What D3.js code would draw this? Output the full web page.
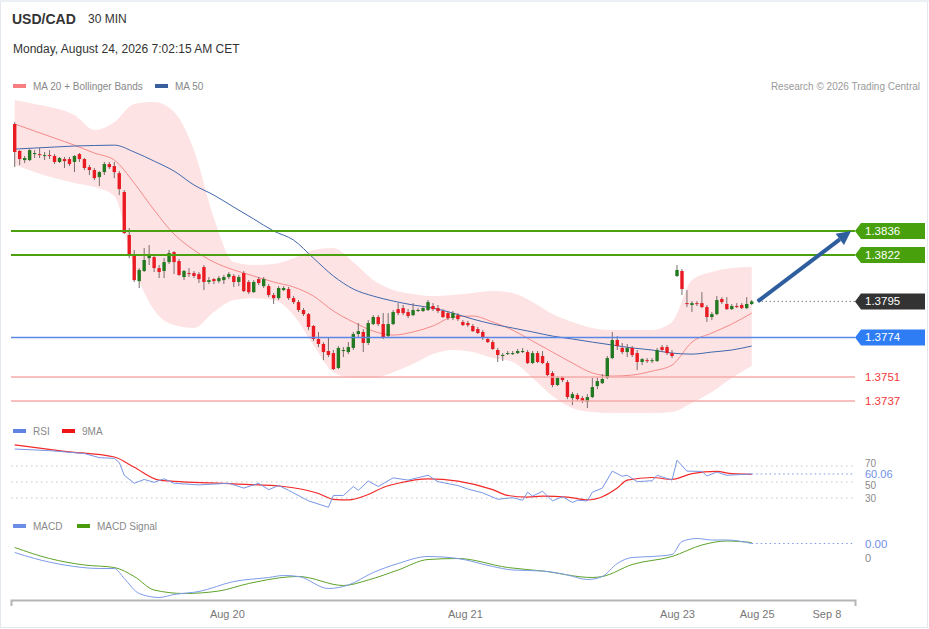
<!DOCTYPE html>
<html lang="en">
<head>
<meta charset="UTF-8">
<title>USD/CAD 30 MIN</title>
<script src="https://d3js.org/d3.v7.min.js"></script>
<style>
body { margin: 0; background: #fff; }
svg text { font-family: "Liberation Sans", Arial, sans-serif; }
.axis path { stroke: #b5b5b5; stroke-width: 2; }
.axis text { fill: #777; font-size: 11px; }
</style>
</head>
<body>
<script>
// 30 min candles: [open, high, low, close]
var candles = [
  [1.38983,1.38994,1.38732,1.38820],[1.38826,1.38831,1.38744,1.38779],[1.38773,1.38797,1.38756,1.38785],
  [1.38773,1.38837,1.38767,1.38831],[1.38808,1.38831,1.38785,1.38814],[1.38808,1.38843,1.38785,1.38802],
  [1.38797,1.38820,1.38773,1.38802],[1.38802,1.38831,1.38779,1.38797],[1.38797,1.38808,1.38750,1.38762],
  [1.38762,1.38791,1.38756,1.38785],[1.38779,1.38791,1.38727,1.38767],[1.38779,1.38791,1.38738,1.38750],
  [1.38762,1.38802,1.38703,1.38797],[1.38808,1.38814,1.38762,1.38779],[1.38779,1.38785,1.38715,1.38727],
  [1.38732,1.38744,1.38686,1.38715],[1.38715,1.38727,1.38657,1.38668],[1.38674,1.38709,1.38622,1.38703],
  [1.38703,1.38762,1.38686,1.38750],[1.38750,1.38762,1.38721,1.38732],[1.38738,1.38762,1.38668,1.38703],
  [1.38697,1.38709,1.38569,1.38604],[1.38587,1.38598,1.38342,1.38348],[1.38337,1.38377,1.38202,1.38220],
  [1.38220,1.38249,1.38063,1.38074],[1.38068,1.38144,1.38028,1.38133],[1.38127,1.38261,1.38121,1.38191],
  [1.38202,1.38278,1.38162,1.38220],[1.38208,1.38220,1.38121,1.38144],[1.38144,1.38162,1.38086,1.38121],
  [1.38127,1.38202,1.38086,1.38179],[1.38179,1.38249,1.38168,1.38232],[1.38237,1.38243,1.38109,1.38179],
  [1.38185,1.38197,1.38098,1.38104],[1.38092,1.38133,1.38074,1.38127],[1.38115,1.38144,1.38092,1.38109],
  [1.38115,1.38127,1.38086,1.38098],[1.38109,1.38121,1.38057,1.38080],[1.38150,1.38162,1.38016,1.38063],
  [1.38063,1.38092,1.38051,1.38074],[1.38080,1.38086,1.38051,1.38068],[1.38068,1.38098,1.38057,1.38086],
  [1.38074,1.38104,1.38051,1.38092],[1.38092,1.38121,1.38080,1.38109],[1.38098,1.38109,1.38034,1.38063],
  [1.38063,1.38104,1.38039,1.38092],[1.38115,1.38127,1.38004,1.38010],[1.38063,1.38074,1.37993,1.38004],
  [1.38004,1.38074,1.37999,1.38063],[1.38080,1.38092,1.38045,1.38057],[1.38039,1.38092,1.38028,1.38080],
  [1.38039,1.38051,1.37975,1.37987],[1.37987,1.37999,1.37935,1.37969],[1.37969,1.38039,1.37958,1.38028],
  [1.38016,1.38039,1.38010,1.38028],[1.38022,1.38034,1.37958,1.37969],[1.37969,1.37981,1.37935,1.37946],
  [1.37946,1.37958,1.37888,1.37900],[1.37900,1.37911,1.37865,1.37876],[1.37876,1.37882,1.37783,1.37801],
  [1.37807,1.37812,1.37719,1.37731],[1.37731,1.37772,1.37684,1.37702],[1.37702,1.37713,1.37608,1.37655],
  [1.37661,1.37737,1.37626,1.37638],[1.37649,1.37667,1.37550,1.37556],[1.37562,1.37690,1.37556,1.37679],
  [1.37661,1.37684,1.37626,1.37667],[1.37655,1.37713,1.37643,1.37684],[1.37679,1.37772,1.37667,1.37760],
  [1.37760,1.37824,1.37743,1.37777],[1.37772,1.37789,1.37655,1.37708],[1.37708,1.37841,1.37696,1.37824],
  [1.37818,1.37870,1.37812,1.37859],[1.37859,1.37870,1.37807,1.37818],[1.37818,1.37882,1.37731,1.37737],
  [1.37748,1.37882,1.37743,1.37818],[1.37818,1.37900,1.37812,1.37888],[1.37905,1.37940,1.37870,1.37882],
  [1.37911,1.37929,1.37870,1.37882],[1.37888,1.37905,1.37853,1.37865],[1.37870,1.37940,1.37865,1.37900],
  [1.37894,1.37911,1.37888,1.37900],[1.37894,1.37923,1.37888,1.37911],[1.37900,1.37958,1.37894,1.37946],
  [1.37923,1.37940,1.37894,1.37905],[1.37911,1.37929,1.37882,1.37894],[1.37894,1.37905,1.37853,1.37859],
  [1.37882,1.37894,1.37841,1.37853],[1.37853,1.37894,1.37841,1.37882],[1.37870,1.37882,1.37836,1.37847],
  [1.37830,1.37841,1.37807,1.37812],[1.37824,1.37836,1.37801,1.37812],[1.37807,1.37818,1.37772,1.37777],
  [1.37789,1.37801,1.37760,1.37766],[1.37772,1.37783,1.37725,1.37737],[1.37731,1.37743,1.37708,1.37713],
  [1.37713,1.37725,1.37667,1.37673],[1.37667,1.37679,1.37597,1.37638],[1.37632,1.37649,1.37603,1.37638],
  [1.37643,1.37661,1.37638,1.37649],[1.37643,1.37661,1.37638,1.37649],[1.37649,1.37673,1.37643,1.37661],
  [1.37655,1.37679,1.37649,1.37661],[1.37655,1.37667,1.37585,1.37591],[1.37591,1.37661,1.37585,1.37649],
  [1.37649,1.37661,1.37591,1.37597],[1.37632,1.37661,1.37585,1.37591],[1.37591,1.37603,1.37515,1.37521],
  [1.37533,1.37544,1.37451,1.37463],[1.37463,1.37515,1.37457,1.37504],[1.37509,1.37515,1.37480,1.37492],
  [1.37480,1.37492,1.37381,1.37393],[1.37387,1.37422,1.37346,1.37410],[1.37405,1.37416,1.37370,1.37381],
  [1.37387,1.37399,1.37358,1.37370],[1.37364,1.37410,1.37329,1.37393],[1.37393,1.37504,1.37387,1.37451],
  [1.37457,1.37509,1.37439,1.37486],[1.37474,1.37527,1.37469,1.37498],[1.37504,1.37632,1.37498,1.37620],
  [1.37620,1.37772,1.37614,1.37725],[1.37725,1.37748,1.37667,1.37690],[1.37679,1.37708,1.37643,1.37655],
  [1.37655,1.37702,1.37626,1.37679],[1.37679,1.37690,1.37626,1.37638],[1.37649,1.37667,1.37550,1.37597],
  [1.37597,1.37620,1.37579,1.37614],[1.37608,1.37620,1.37591,1.37603],[1.37603,1.37620,1.37591,1.37608],
  [1.37603,1.37679,1.37597,1.37667],[1.37684,1.37696,1.37655,1.37667],[1.37684,1.37696,1.37638,1.37649],
  [1.37649,1.37667,1.37620,1.37632],[1.38098,1.38162,1.38092,1.38133],[1.38127,1.38138,1.37987,1.38022],
  [1.37940,1.38016,1.37917,1.37935],[1.37929,1.37952,1.37888,1.37940],[1.37940,1.37952,1.37923,1.37935],
  [1.37940,1.38004,1.37911,1.37917],[1.37917,1.37929,1.37830,1.37859],[1.37859,1.37888,1.37841,1.37876],
  [1.37876,1.37981,1.37870,1.37958],[1.37964,1.37975,1.37935,1.37946],[1.37935,1.37975,1.37900,1.37905],
  [1.37905,1.37935,1.37900,1.37923],[1.37923,1.37940,1.37911,1.37917],[1.37929,1.37940,1.37905,1.37911],
  [1.37911,1.37975,1.37905,1.37935],[1.37935,1.37958,1.37929,1.37950]
];

// overlays, read every 4 candles
var bandIdx = [0,4,8,12,16,20,24,28,32,36,40,44,48,52,56,60,64,68,72,76,80,84,88,92,96,100,104,108,112,116,120,124,128,132,136,140,144,148];
var ma20 = [1.38983,1.38942,1.38901,1.38860,1.38814,1.38773,1.38639,1.38482,1.38342,1.38249,1.38179,1.38133,1.38098,1.38063,1.38034,1.37981,1.37894,1.37830,1.37777,1.37754,1.37772,1.37807,1.37859,1.37865,1.37830,1.37783,1.37719,1.37655,1.37591,1.37533,1.37515,1.37521,1.37544,1.37579,1.37713,1.37766,1.37818,1.37882];
var bbUpper = [1.39123,1.39100,1.39076,1.39035,1.38948,1.38994,1.39100,1.39111,1.39053,1.38831,1.38435,1.38179,1.38162,1.38168,1.38202,1.38249,1.38261,1.38179,1.38074,1.38016,1.37993,1.37981,1.37987,1.37999,1.38010,1.37999,1.37946,1.37876,1.37830,1.37795,1.37783,1.37783,1.37783,1.37830,1.38074,1.38121,1.38144,1.38150];
var bbLower = [1.38744,1.38703,1.38668,1.38639,1.38616,1.38564,1.38144,1.37900,1.37812,1.37795,1.37888,1.37958,1.37969,1.37958,1.37870,1.37696,1.37538,1.37504,1.37504,1.37538,1.37585,1.37643,1.37667,1.37655,1.37620,1.37597,1.37504,1.37399,1.37329,1.37306,1.37300,1.37300,1.37300,1.37306,1.37358,1.37422,1.37504,1.37574];
var ma50 = [1.38837,1.38843,1.38849,1.38855,1.38858,1.38860,1.38820,1.38767,1.38709,1.38628,1.38569,1.38499,1.38430,1.38360,1.38307,1.38202,1.38098,1.38022,1.37981,1.37952,1.37929,1.37911,1.37882,1.37847,1.37818,1.37795,1.37772,1.37748,1.37731,1.37713,1.37696,1.37679,1.37667,1.37649,1.37643,1.37655,1.37667,1.37690];

// key levels
var resistances = [1.3836, 1.3822];
var pivot = 1.3774;
var supports = [1.3751, 1.3737];
var lastPrice = 1.3795;

// RSI and its 9 period MA
var rsiIdx = [0,7,14,17,20,21,22,24,26,28,30,32,37,43,46,49,51,53,55,59,63,64,66,68,69,71,73,76,79,83,85,89,91,94,97,100,102,103,104,106,108,110,112,113,115,116,118,120,122,123,125,128,129,132,133,135,138,139,141,143,148];
var rsiVal = [91.2,89.2,85.6,80.4,79.6,74.4,58.4,48.4,53.2,49.6,54,48.4,46.4,48.4,42.4,48.4,40.4,45.6,39.6,26.4,18.4,33.2,33.2,44.4,39.6,51.2,44.4,55.2,52.4,58.4,50.4,45.6,41.2,36.4,28.4,30.4,27.2,37.2,32.4,38.4,26.4,31.6,24.4,27.2,26.4,37.2,42.4,63.6,57.2,58.4,50.4,51.6,58.4,52.4,77.2,63.6,63.2,57.6,62.4,58.4,60.06];
var rsiMaIdx = [0,10,20,24,29,44,54,61,64,67,71,74,77,83,89,96,99,103,106,111,115,118,121,123,128,132,136,141,144,148];
var rsiMaVal = [96.4,88.4,81.2,68.4,52.4,47.6,44.4,35.6,28.4,27.6,34.4,43.2,48.4,54,51.2,40.4,33.2,31.2,32.4,31.2,27.6,31.6,42.4,52.4,55.6,53.2,60.4,63.2,60.4,59.6];
var rsiLevels = [70, 50, 30];

// MACD
var macdIdx = [0,4,10,17,20,22,25,29,32,37,44,51,54,57,63,67,72,77,83,89,96,100,106,111,115,118,121,124,128,132,134,137,140,143,148];
var macdVal = [0.00009,-0.00003,-0.00016,-0.00023,-0.00023,-0.00043,-0.00073,-0.00081,-0.00075,-0.00069,-0.00049,-0.00041,-0.00037,-0.00039,-0.00063,-0.00056,-0.00031,-0.00013,0.00001,-0.00003,-0.00019,-0.00026,-0.00028,-0.00036,-0.00045,-0.00039,-0.00013,-0.00001,0.00001,0.00005,0.00031,0.00037,0.00034,0.00034,0.00027];
var signalIdx = [0,7,14,20,24,28,34,41,47,57,66,71,77,83,89,99,106,116,118,124,132,138,143,148];
var signalVal = [0.00019,-0.00003,-0.00016,-0.00021,-0.00039,-0.00066,-0.00073,-0.00068,-0.00053,-0.00039,-0.00057,-0.00046,-0.00026,-0.00005,-0.00003,-0.00021,-0.00028,-0.00041,-0.00039,-0.00015,0.00001,0.00024,0.00032,0.00029];

// time axis
var xTickIdx = [42.6, 90.4, 133, 149, 163];
var xTickLabels = ["Aug 20", "Aug 21", "Aug 23", "Aug 25", "Sep 8"];

var W = 929, H = 629;
var left = 11, right = 855;

var svg = d3.select("body").append("svg")
    .attr("width", W)
    .attr("height", H);

svg.append("rect")
    .attr("x", 0.5).attr("y", 0.5)
    .attr("width", W - 2).attr("height", H - 2)
    .attr("fill", "#fff").attr("stroke", "#e3e8ee");
svg.append("rect").attr("x", 0).attr("y", 0).attr("width", W).attr("height", 2).attr("fill", "#eceff3");

function label(x, y, s, size, color, weight, anchor) {
    return svg.append("text")
        .attr("x", x).attr("y", y)
        .attr("font-size", size)
        .attr("fill", color)
        .attr("font-weight", weight || "normal")
        .attr("text-anchor", anchor || "start")
        .text(s);
}

// header
label(12, 24, "USD/CAD", 14, "#333", "bold");
label(88, 23, "30 MIN", 12, "#333");
label(13, 53, "Monday, August 24, 2026 7:02:15 AM CET", 12, "#333");
label(920, 90, "Research \u00a9 2026 Trading Central", 10, "#9a9a9a", "normal", "end");

function legendItem(x, y, color, s) {
    svg.append("rect").attr("x", x).attr("y", y - 2).attr("width", 13).attr("height", 4).attr("fill", color);
    label(x + 20, y + 3.5, s, 10, "#888");
}
legendItem(13, 86, "#f77f7f", "MA 20 + Bollinger Bands");
legendItem(155, 86, "#3a5f9f", "MA 50");
legendItem(13, 431, "#5f82e3", "RSI");
legendItem(62, 431, "#f01414", "9MA");
legendItem(13, 526, "#6a8de6", "MACD");
legendItem(77, 526, "#4a9c0c", "MACD Signal");

// scales
var x = d3.scaleLinear()
    .domain([0, candles.length - 1])
    .range([14.7, 751.7]);

var y = d3.scaleLinear()
    .domain([1.3737, 1.3836])
    .range([401, 231]);

var xAxisScale = d3.scaleLinear()
    .domain([x.invert(left), x.invert(right)])
    .range([left, right]);

// price panel
svg.append("clipPath").attr("id", "priceClip")
    .append("rect").attr("x", left).attr("y", 98).attr("width", right - left).attr("height", 320);

var price = svg.append("g").attr("clip-path", "url(#priceClip)");

var band = d3.area()
    .x(function(d, i) { return x(bandIdx[i]); })
    .y0(function(d, i) { return y(bbLower[i]); })
    .y1(function(d, i) { return y(bbUpper[i]); })
    .curve(d3.curveMonotoneX);

price.append("path")
    .attr("d", band(bandIdx))
    .attr("fill", "#fde3e3");

function overlay(vals) {
    return d3.line()
        .x(function(d, i) { return x(bandIdx[i]); })
        .y(function(d) { return y(d); })
        .curve(d3.curveMonotoneX)(vals);
}

price.append("path").attr("d", overlay(ma20))
    .attr("fill", "none").attr("stroke", "#f58a8a").attr("stroke-width", 1);
price.append("path").attr("d", overlay(ma50))
    .attr("fill", "none").attr("stroke", "#4168ad").attr("stroke-width", 1);

// candles
var bw = 3.4;
price.selectAll("line.wick")
    .data(candles)
    .join("line")
    .attr("class", "wick")
    .attr("x1", function(d, i) { return x(i); })
    .attr("x2", function(d, i) { return x(i); })
    .attr("y1", function(d) { return y(d[1]); })
    .attr("y2", function(d) { return y(d[2]); })
    .attr("stroke", "#7a6c6c")
    .attr("stroke-width", 1);

price.selectAll("rect.body")
    .data(candles)
    .join("rect")
    .attr("class", "body")
    .attr("x", function(d, i) { return x(i) - bw / 2; })
    .attr("width", bw)
    .attr("y", function(d) { return y(Math.max(d[0], d[3])); })
    .attr("height", function(d) { return Math.max(1, Math.abs(y(d[0]) - y(d[3]))); })
    .attr("fill", function(d) { return d[3] >= d[0] ? "#23791f" : "#ea1a22"; });

// level lines
var fmt = d3.format(".4f");

function tag(v, color) {
    var c = y(v);
    svg.append("path")
        .attr("d", "M" + right + "," + c + "L" + (right + 6) + "," + (c - 8) + "H925V" + (c + 8) + "H" + (right + 6) + "Z")
        .attr("fill", color);
    label(right + 10, c + 4, fmt(v), 11.5, "#fff");
}

resistances.forEach(function(v) {
    svg.append("line")
        .attr("x1", left).attr("x2", right)
        .attr("y1", y(v)).attr("y2", y(v))
        .attr("stroke", "#4c9f0e").attr("stroke-width", 2);
    tag(v, "#47a00c");
});

svg.append("line")
    .attr("x1", left).attr("x2", right)
    .attr("y1", y(pivot)).attr("y2", y(pivot))
    .attr("stroke", "#5a88e6").attr("stroke-width", 1.5);
tag(pivot, "#2f7df5");

supports.forEach(function(v) {
    svg.append("line")
        .attr("x1", left).attr("x2", right)
        .attr("y1", y(v)).attr("y2", y(v))
        .attr("stroke", "#f6aaaa").attr("stroke-width", 1.5);
    label(right + 10, y(v) + 4, fmt(v), 11.5, "#f03a3a");
});

// last price
var last = candles[candles.length - 1][3];
svg.append("line")
    .attr("x1", x(candles.length - 1) + 6).attr("x2", right)
    .attr("y1", y(last)).attr("y2", y(last))
    .attr("stroke", "#444").attr("stroke-width", 1)
    .attr("stroke-dasharray", "1,3");
tag(lastPrice, "#333");

// target arrow
var ax0 = x(candles.length - 1) + 6, ay0 = y(last);
var ax1 = right - 4, ay1 = y(resistances[0]);
var len = Math.hypot(ax1 - ax0, ay1 - ay0);
var ux = (ax1 - ax0) / len, uy = (ay1 - ay0) / len;
var bx = ax1 - 14 * ux, by = ay1 - 14 * uy;
svg.append("line")
    .attr("x1", ax0).attr("y1", ay0)
    .attr("x2", bx).attr("y2", by)
    .attr("stroke", "#2f5e9e").attr("stroke-width", 4);
svg.append("polygon")
    .attr("points", [
        [ax1, ay1],
        [bx - 7 * uy, by + 7 * ux],
        [bx + 7 * uy, by - 7 * ux]
    ].join(" "))
    .attr("fill", "#2f5e9e");

// RSI panel
var yR = d3.scaleLinear().domain([30, 70]).range([498, 466]);

rsiLevels.forEach(function(v) {
    svg.append("line")
        .attr("x1", left).attr("x2", right)
        .attr("y1", yR(v)).attr("y2", yR(v))
        .attr("stroke", "#c4c4c4").attr("stroke-dasharray", "1.5,3.5");
    label(right + 10, yR(v) + (v === 70 ? 1 : v === 50 ? 6.5 : 4), v, 10, "#8a8a8a");
});

svg.append("path")
    .attr("d", d3.line()
        .x(function(d, i) { return x(rsiMaIdx[i]); })
        .y(function(d) { return yR(d); })
        .curve(d3.curveMonotoneX)(rsiMaVal))
    .attr("fill", "none").attr("stroke", "#f22a2a").attr("stroke-width", 1.2);

svg.append("path")
    .attr("d", d3.line()
        .x(function(d, i) { return x(rsiIdx[i]); })
        .y(function(d) { return yR(d); })(rsiVal))
    .attr("fill", "none").attr("stroke", "#7896e6").attr("stroke-width", 1);

var rsiLast = rsiVal[rsiVal.length - 1];
svg.append("line")
    .attr("x1", x(rsiIdx[rsiIdx.length - 1])).attr("x2", right)
    .attr("y1", yR(rsiLast)).attr("y2", yR(rsiLast))
    .attr("stroke", "#7896e6").attr("stroke-dasharray", "1.5,3");
label(right + 10, yR(rsiLast) + 4, d3.format(".2f")(rsiLast), 11, "#6f8fe8");

// MACD panel
var yM = d3.scaleLinear().domain([-0.001, 0.0006]).range([607, 527]);

svg.append("path")
    .attr("d", d3.line()
        .x(function(d, i) { return x(signalIdx[i]); })
        .y(function(d) { return yM(d); })
        .curve(d3.curveMonotoneX)(signalVal))
    .attr("fill", "none").attr("stroke", "#5ea32a").attr("stroke-width", 1);

svg.append("path")
    .attr("d", d3.line()
        .x(function(d, i) { return x(macdIdx[i]); })
        .y(function(d) { return yM(d); })
        .curve(d3.curveMonotoneX)(macdVal))
    .attr("fill", "none").attr("stroke", "#7d9be8").attr("stroke-width", 1);

var macdLast = macdVal[macdVal.length - 1];
svg.append("line")
    .attr("x1", x(macdIdx[macdIdx.length - 1])).attr("x2", right)
    .attr("y1", yM(macdLast)).attr("y2", yM(macdLast))
    .attr("stroke", "#7d9be8").attr("stroke-dasharray", "1.5,3");
label(right + 10, yM(macdLast) + 4.5, d3.format(".2f")(macdLast), 11.5, "#6f8fe8");
label(right + 10, yM(0) + 4.5, "0", 11, "#8a8a8a");

// time axis
svg.append("g")
    .attr("class", "axis")
    .attr("transform", "translate(0,600)")
    .call(d3.axisBottom(xAxisScale)
        .tickValues(xTickIdx)
        .tickSizeInner(0)
        .tickSizeOuter(6)
        .tickPadding(10)
        .tickFormat(function(d, i) { return xTickLabels[i]; }));
</script>
</body>
</html>
